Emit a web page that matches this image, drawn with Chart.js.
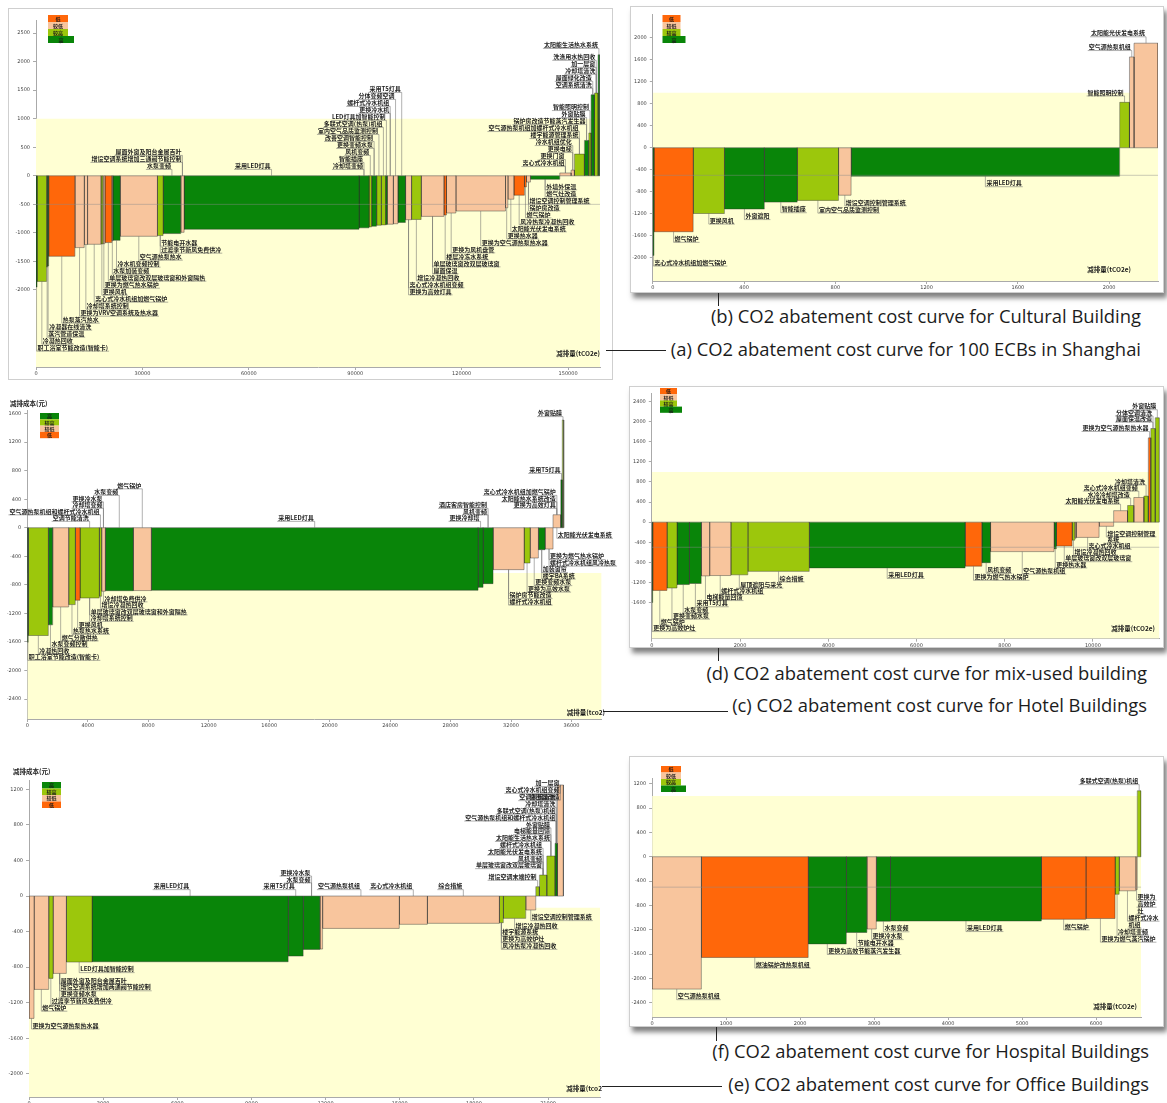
<!DOCTYPE html>
<html lang="zh">
<head>
<meta charset="utf-8">
<title>CO2 abatement cost curves</title>
<script src="https://cdn.jsdelivr.net/npm/chart.js@4.4.1/dist/chart.umd.min.js"></script>
<style>
  html, body { margin: 0; padding: 0; background: #fff; }
  body { position: relative; width: 1167px; height: 1103px; overflow: hidden; }
  .frame { position: absolute; background: #fff; border: 1px solid #cfcfcf; box-sizing: border-box; }
  .frame.shadow { box-shadow: 3px 5px 5px rgba(0,0,0,0.5); }
  canvas { position: absolute; }
  .cap { position: absolute; font-family: "Open Sans", sans-serif; font-size: 18.4px; line-height: 20px; color: #1c1c1c; white-space: nowrap; }
  .rule { position: absolute; background: #222; }
</style>
</head>
<body>
<div class="frame" style="left:8px;top:8px;width:605px;height:372px"></div>
<div class="frame shadow" style="left:630px;top:6px;width:534px;height:287px"></div>
<div class="frame shadow" style="left:629px;top:386px;width:535px;height:262px"></div>
<div class="frame shadow" style="left:629px;top:756px;width:535px;height:271px"></div>

<div class="rule" style="left:606px;top:350px;width:60px;height:1px"></div>
<div class="rule" style="left:718px;top:293px;width:1px;height:13px"></div>
<div class="rule" style="left:603px;top:711px;width:125px;height:1px"></div>
<div class="rule" style="left:718px;top:648px;width:1px;height:13px"></div>
<div class="rule" style="left:602px;top:1086px;width:120px;height:1px"></div>
<div class="rule" style="left:716px;top:1027px;width:1px;height:14px"></div>

<div class="cap" style="right:26px;top:306px">(b) CO2 abatement cost curve for Cultural Building</div>
<div class="cap" style="right:26px;top:339px">(a) CO2 abatement cost curve for 100 ECBs in Shanghai</div>
<div class="cap" style="right:20px;top:663px">(d) CO2 abatement cost curve for mix-used building</div>
<div class="cap" style="right:20px;top:695px">(c) CO2 abatement cost curve for Hotel Buildings</div>
<div class="cap" style="right:18px;top:1041px">(f) CO2 abatement cost curve for Hospital Buildings</div>
<div class="cap" style="right:18px;top:1074px">(e) CO2 abatement cost curve for Office Buildings</div>

<script>
// ---- data: (a) 100 ECBs in Shanghai ----
const aWidth = [300, 2700, 280, 280, 7400, 2630, 940, 3760, 560, 560, 1970, 280, 2070, 10500, 1600, 4980, 940, 49300, 2820, 750, 1400, 1310, 1220, 470, 1690, 1310, 2160, 1690, 2720, 6390, 750, 2630, 14000, 660, 1690, 3000, 560, 1130, 8260, 3190, 940, 2820, 1220, 660, 940, 1030, 470];
const aCost = [-1950, -1850, -1600, -1580, -1410, -1258, -1205, -1200, -1195, -1190, -1170, -1140, -1130, -1060, -1047, -1012, -990, -936, -912, -895, -883, -866, -860, -855, -848, -840, -816, -769, -765, -711, -687, -652, -617, -560, -410, -340, -195, -110, -60, 50, 100, 380, 620, 750, 1420, 1450, 2120];
const aLevel = ['高', '较高', '高', '高', '低', '较低', '较低', '较低', '较高', '较低', '低', '较低', '高', '较低', '较高', '高', '较低', '高', '高', '较高', '高', '较高', '较高', '高', '较低', '较低', '高', '较低', '较高', '较低', '低', '较低', '较低', '较低', '较低', '低', '低', '较低', '高', '较低', '较低', '较高', '高', '较高', '高', '较高', '高'];
const aLabel = [
  '职工浴室节能改造(智能卡)', '冷凝热回收', '蒸汽管道保温', '冷凝器在线清洗', '热泵蒸汽热水',
  '更换为VRV空调系统及热水器', '冷却塔系统控制', '离心式冷水机组加燃气锅炉', '更换风机', '更换为燃气热水锅炉',
  '单层玻璃窗改双层玻璃窗和外窗隔热', '水泵加装变频', '冷水机变频控制', '空气源热泵热水', '节能电开水器|过渡季节新风免费供冷',
  '^水泵变频', '^增设空调系统增加三通阀节能控制|^屋面外窗及阳台金属百叶', '^采用LED灯具', '^冷却塔变频|^智能插座', '^风机变频',
  '^更换变频水泵|^改善空调智能控制', '^室内空气品质监测控制', '^多联式空调(热泵)机组', '^LED灯具加智能控制', '^更换冷水机|^螺杆式冷水机组',
  '^分体变频空调', '^采用T5灯具', '离心式冷水机组变频|更换为高效灯具', '增设冷凝热回收', '单层玻璃窗改双层玻璃窗|屋面保温',
  '楼层冷冻水系统', '更换为风机盘管', '更换为空气源热泵热水器', '更换热水器', '太阳能光伏发电系统',
  '风冷热泵冷凝热回收', '燃气锅炉', '增设空调控制管理系统|锅炉房改造', '外墙外保温|燃气灶改造', '离心式冷水机组|更换门窗',
  '更换电梯|冷水机组优化', '楼宇能源管理系统|空气源热泵机组加螺杆式冷水机组', '锅炉房改造节能蒸汽发生器|外窗贴膜', '智能照明控制', '空调系统清洗|屋面绿化改造',
  '冷却塔清洗|加一层窗|洗涤用水热回收', '太阳能生活热水系统'
];
const aXTicks = [0, 30000, 60000, 90000, 120000, 150000];
const aYTicks = [-2000, -1500, -1000, -500, 0, 500, 1000, 1500, 2000, 2500];
const aXRange = [0, 159000];
const aYRange = [-3350, 2730];

// ---- data: (b) Cultural Building ----
const bWidth = [5, 172, 137, 175, 144, 181, 55, 1177, 43, 20, 105];
const bCost = [-1956, -1525, -1194, -1112, -987, -956, -862, -515, 825, 1650, 1900];
const bLevel = ['高', '低', '较高', '高', '高', '较高', '较低', '高', '较高', '较低', '较低'];
const bLabel = ['离心式冷水机组加燃气锅炉', '燃气锅炉', '更换风机', '外窗遮阳', '智能插座', '室内空气品质监测控制', '增设空调控制管理系统', '采用LED灯具', '智能照明控制', '空气源热泵机组', '太阳能光伏发电系统'];
const bXTicks = [0, 400, 800, 1200, 1600, 2000];
const bYTicks = [-2000, -1600, -1200, -800, -400, 0, 400, 800, 1200, 1600, 2000];
const bXRange = [0, 2214];
const bYRange = [-2420, 2430];

// ---- data: (c) Hotel Buildings ----
const cWidth = [69, 1322, 287, 1058, 440, 308, 1279, 155, 242, 1852, 1190, 21620, 330, 662, 2050, 397, 551, 440, 529, 507, 106, 92];
const cCost = [-1604, -1510, -1361, -1110, -1077, -1016, -984, -960, -890, -882, -880, -876, -835, -783, -587, -494, -424, -308, -298, 182, 671, 1510];
const cLevel = ['高', '较高', '高', '较低', '较高', '低', '较高', '较高', '较低', '高', '较低', '高', '高', '高', '较低', '较高', '较低', '高', '较低', '较低', '高', '较高'];
const cLabel = [
  '职工浴室节能改造(智能卡)', '冷凝热回收', '水泵变频控制', '燃气分散供热', '热泵热水系统', '更换风机',
  '单层玻璃窗改双层玻璃窗和外窗隔热|冷却塔系统控制|^空调节能清洗', '增设冷凝热回收|^空气源热泵机组和螺杆式冷水机组',
  '冷却塔免费供冷|^冷却塔变频|^更换冷水泵', '^水泵变频', '^燃气锅炉', '^采用LED灯具', '^更换冷却塔',
  '^风机变频|^酒店客房智能控制', '锅炉房节能改造|螺杆式冷水机组', '更换为高效水泵', '更换变频水泵', '加装窗帘|楼宇BA系统',
  '更换为燃气热水锅炉|螺杆式冷水机组风冷热泵', '_太阳能光伏发电系统|更换为高效灯具|太阳能热水系统改造|离心式冷水机组加燃气锅炉',
  '采用T5灯具', '外窗贴膜'
];
const cXTicks = [0, 4000, 8000, 12000, 16000, 20000, 24000, 28000, 32000, 36000];
const cYTicks = [-2400, -2000, -1600, -1200, -800, -400, 0, 400, 800, 1200, 1600];
const cXRange = [0, 38000];
const cYRange = [-2680, 1650];

// ---- data: (d) mix-used building ----
const dWidth = [20, 323, 228, 283, 268, 189, 480, 386, 1393, 3534, 378, 197, 1440, 55, 354, 63, 30, 519, 330, 315, 142, 228, 102, 55, 102, 94];
const dCost = [-1600, -1359, -1311, -1242, -1221, -1070, -1063, -1049, -980, -911, -876, -807, -587, -530, -476, -359, -320, -304, -83, 228, 331, 490, 518, 1677, 1863, 2077];
const dLevel = ['高', '低', '较高', '高', '高', '较低', '较低', '较高', '较高', '高', '低', '高', '较低', '高', '低', '较高', '较低', '较低', '较低', '较低', '较高', '较低', '较高', '低', '较高', '较高'];
const dLabel = [
  '更换为高效炉灶', '燃气锅炉', '更换变频水泵', '水泵变频', '采用T5灯具', '电梯能量回馈', '螺杆式冷水机组', '屋顶遮阳与采光',
  '综合措施', '采用LED灯具', '更换为燃气热水锅炉', '风机变频', '空气源热泵机组', '更换热水器', '单层玻璃窗改双层玻璃窗',
  '增设冷凝热回收', '', '离心式冷水机组', '增设空调控制管理系统', '太阳能光伏发电系统', '水冷冷却塔改造', '离心式冷水机组变频',
  '冷却塔清洗', '更换为空气源热泵热水器', '屋面保温改造|分体空调清洗', '外窗贴膜'
];
const dXTicks = [0, 2000, 4000, 6000, 8000, 10000];
const dYTicks = [-1600, -1200, -800, -400, 0, 400, 800, 1200, 1600, 2000, 2400];
const dXRange = [0, 11510];
const dYRange = [-2320, 2570];

// ---- data: (e) Office Buildings ----
const eWidth = [202, 594, 175, 540, 1039, 7937, 607, 675, 108, 3103, 1134, 2915, 162, 905, 405, 148, 297, 337, 94, 243];
const eCost = [-1376, -1050, -926, -870, -742, -739, -675, -600, -596, -364, -318, -307, -300, -251, -157, 105, 236, 450, 593, 1249];
const eLevel = ['较低', '较低', '较高', '较低', '较高', '高', '高', '高', '较低', '较低', '较低', '较低', '较高', '较高', '较低', '较高', '较高', '较高', '高', '较低'];
const eLabel = [
  '更换为空气源热泵热水器', '燃气锅炉', '过渡季节新风免费供冷',
  '屋面外窗及阳台金属百叶|增设空调系统增加两通阀节能控制|更换变频水泵', 'LED灯具加智能控制',
  '^采用LED灯具', '^采用T5灯具', '^水泵变频|^更换冷水泵', '', '^空气源热泵机组', '^离心式冷水机组', '^综合措施',
  '楼宇能源系统|更换为高效炉灶|风冷热泵冷凝热回收', '增设冷凝热回收', '增设空调控制管理系统', '增设空调末端控制',
  '单层玻璃窗改双层玻璃窗|风机变频|太阳能光伏发电系统|螺杆式冷水机组', '太阳能生活热水系统|电梯能量回馈|外窗贴膜',
  '空气源热泵机组和螺杆式冷水机组|多联式空调(热泵)机组|冷却塔清洗|空调系统清洗', '变压器改造|离心式冷水机组变频|加一层窗'
];
const eXTicks = [0, 3000, 6000, 9000, 12000, 15000, 18000, 21000];
const eYTicks = [-2000, -1600, -1200, -800, -400, 0, 400, 800, 1200];
const eXRange = [0, 23100];
const eYRange = [-2260, 1305];

// ---- data: (f) Hospital Buildings ----
const fWidth = [666, 1444, 516, 277, 127, 192, 2040, 600, 394, 56, 225, 20, 52];
const fCost = [-2176, -1656, -1433, -1245, -1188, -1060, -1056, -1028, -1016, -617, -560, -540, 1085];
const fLevel = ['较低', '低', '高', '高', '较低', '高', '高', '低', '低', '较高', '较低', '较低', '较高'];
const fLabel = ['空气源热泵机组', '燃油锅炉改热泵机组', '更换为高效节能蒸汽发生器', '节能电开水器', '更换冷水泵', '水泵变频', '采用LED灯具', '燃气锅炉', '更换为燃气蒸汽锅炉', '冷却塔变频', '螺杆式冷水机组', '更换为高效炉灶', '多联式空调(热泵)机组'];
const fXTicks = [0, 1000, 2000, 3000, 4000, 5000, 6000];
const fYTicks = [-2400, -2000, -1600, -1200, -800, -400, 0, 400, 800, 1200];
const fXRange = [0, 6610];
const fYRange = [-2635, 1295];

// ---- styling ----
const LEVEL_COLORS = { '高': '#098509', '较高': '#9cc70c', '较低': '#f8c59d', '低': '#ff670a' };
const BAND = '#ffffd3';
const LABEL_FONT = 'bold 6px "Noto Sans CJK SC", sans-serif';
const TITLE_FONT = 'bold 6.5px "Noto Sans CJK SC", sans-serif';
const GAP_DOWN = 7, GAP_UP = 10;
const LOW_FIRST = ['低', '较低', '较高', '高'];
const HIGH_FIRST = ['高', '较高', '较低', '低'];

const panels = [
  { key: 'a', widths: aWidth, costs: aCost, levels: aLevel, labels: aLabel, xTicks: aXTicks, yTicks: aYTicks,
    xRange: aXRange, yRange: aYRange, band: 1000, ref: -500, row: 7,
    canvas: [9, 9, 602, 369], area: [36, 20, 600, 367],
    legend: { x: 48, y: 15, row: 7, widths: [20, 20, 20, 26], order: LOW_FIRST },
    xTitle: { text: '减排量(tCO2e)', right: 600, y: 354 } },
  { key: 'b', widths: bWidth, costs: bCost, levels: bLevel, labels: bLabel, xTicks: bXTicks, yTicks: bYTicks,
    xRange: bXRange, yRange: bYRange, band: 1000, ref: -500, row: 7.3,
    canvas: [631, 8, 532, 283], area: [652.8, 12, 1158, 281],
    legend: { x: 662.5, y: 15, row: 7, widths: [18, 18, 18, 23], order: LOW_FIRST },
    xTitle: { text: '减排量(tCO2e)', right: 1131, y: 270 } },
  { key: 'c', widths: cWidth, costs: cCost, levels: cLevel, labels: cLabel, xTicks: cXTicks, yTicks: cYTicks,
    xRange: cXRange, yRange: cYRange, band: -634, ref: null, row: 6.5,
    canvas: [0, 396, 625, 336], area: [27.3, 410, 601.7, 719],
    legend: { x: 40, y: 413, row: 6.3, widths: [19, 19, 19, 19], order: HIGH_FIRST },
    xTitle: { text: '减排量(tco2)', right: 605, y: 713 },
    yTitle: { text: '减排成本(元)', left: 10, y: 404 } },
  { key: 'd', widths: dWidth, costs: dCost, levels: dLevel, labels: dLabel, xTicks: dXTicks, yTicks: dYTicks,
    xRange: dXRange, yRange: dYRange, band: 1000, ref: -500, row: 6.2,
    canvas: [630, 387, 533, 260], area: [651.8, 392, 1159.5, 638.7],
    legend: { x: 660, y: 388, row: 6.2, widths: [17, 17, 17, 22], order: LOW_FIRST },
    xTitle: { text: '减排量(tCO2e)', right: 1155, y: 629 } },
  { key: 'e', widths: eWidth, costs: eCost, levels: eLevel, labels: eLabel, xTicks: eXTicks, yTicks: eYTicks,
    xRange: eXRange, yRange: eYRange, band: -132, ref: null, row: 6.8,
    canvas: [0, 752, 625, 351], area: [29, 780, 600, 1097],
    legend: { x: 42, y: 782, row: 6.5, widths: [19, 19, 19, 19], order: HIGH_FIRST },
    xTitle: { text: '减排量(tco2', right: 602, y: 1089 },
    yTitle: { text: '减排成本(元)', left: 13, y: 772 } },
  { key: 'f', widths: fWidth, costs: fCost, levels: fLevel, labels: fLabel, xTicks: fXTicks, yTicks: fYTicks,
    xRange: fXRange, yRange: fYRange, band: 1000, ref: -500, row: 7,
    canvas: [630, 758, 533, 270], area: [652.1, 778, 1141.2, 1017],
    legend: { x: 661, y: 766, row: 6.5, widths: [20, 20, 20, 25], order: LOW_FIRST },
    xTitle: { text: '减排量(tCO2e)', right: 1137, y: 1007 } }
];

function buildDatasets(p) {
  const sets = [];
  let acc = 0;
  p.widths.forEach((w, i) => {
    const v = p.costs[i];
    sets.push({
      data: [{ x: acc, y: 0 }, { x: acc, y: v }, { x: acc + w, y: v }, { x: acc + w, y: 0 }],
      backgroundColor: LEVEL_COLORS[p.levels[i]],
      borderColor: 'rgba(45,45,45,0.7)', borderWidth: 0.6,
      fill: 'origin', pointRadius: 0, order: 1
    });
    acc += w;
  });
  sets.push({ data: [{ x: 0, y: 0 }, { x: acc, y: 0 }], borderColor: 'rgba(90,90,90,0.8)', borderWidth: 0.7,
    fill: false, pointRadius: 0, order: 0 });
  if (p.ref !== null) {
    sets.push({ data: [{ x: p.xRange[0], y: p.ref }, { x: p.xRange[1], y: p.ref }], borderColor: 'rgba(140,140,140,0.45)',
      borderWidth: 1, fill: false, pointRadius: 0, order: 0 });
  }
  sets.push({ data: [{ x: p.xRange[0], y: p.band }, { x: p.xRange[1], y: p.band }], backgroundColor: BAND,
    borderColor: 'rgba(0,0,0,0)', borderWidth: 1, fill: 'start', pointRadius: 0, order: 9 });
  return sets;
}

// legend, axis titles and the leader-line labels
function overlay(p) {
  const ROW = p.row;
  return {
    id: 'macc_' + p.key,
    afterDatasetsDraw(chart) {
      const ctx = chart.ctx, xs = chart.scales.x, ys = chart.scales.y, area = chart.chartArea;
      const ox = p.canvas[0], oy = p.canvas[1];
      let acc = 0;
      const bars = p.widths.map((w, i) => {
        const v = p.costs[i];
        const r = { x0: xs.getPixelForValue(acc), x1: xs.getPixelForValue(acc + w), v: v,
          top: ys.getPixelForValue(Math.max(v, 0)), bot: ys.getPixelForValue(Math.min(v, 0)) };
        acc += w;
        return r;
      });
      ctx.save();

      const lg = p.legend;
      ctx.textAlign = 'center';
      ctx.textBaseline = 'middle';
      ctx.font = 'bold 5px "Noto Sans CJK SC", sans-serif';
      lg.order.forEach((lev, i) => {
        const bx = lg.x - ox, by = lg.y - oy + i * lg.row;
        ctx.fillStyle = LEVEL_COLORS[lev];
        ctx.fillRect(bx, by, lg.widths[i], lg.row);
        ctx.fillStyle = '#1a1a1a';
        ctx.fillText(lev, bx + lg.widths[i] / 2, by + lg.row / 2 + 0.3);
      });

      ctx.font = TITLE_FONT;
      ctx.fillStyle = '#1a1a1a';
      ctx.textAlign = 'right';
      ctx.fillText(p.xTitle.text, p.xTitle.right - ox, p.xTitle.y - oy);
      if (p.yTitle) {
        ctx.textAlign = 'left';
        ctx.fillText(p.yTitle.text, p.yTitle.left - ox, p.yTitle.y - oy);
      }

      ctx.font = LABEL_FONT;
      const items = [];
      p.labels.forEach((lab, i) => {
        if (!lab) return;
        const b = bars[i];
        lab.split('|').forEach(raw => {
          let up = b.v > 0, text = raw;
          if (raw[0] === '^') { up = true; text = raw.slice(1); }
          else if (raw[0] === '_') { up = false; text = raw.slice(1); }
          items.push({ text: text, up: up, ax: (b.x0 + b.x1) / 2, ay: up ? b.top : b.bot });
        });
      });

      const placed = [], chains = [];
      const limitR = chart.width - 2;
      // a label may not overlap another label nor cross another label's leader line
      const collide = (y, x0, x1, up) => {
        for (const L of placed) {
          if (L.up !== up) continue;
          const boxHit = L.x1 + 2 > x0 && L.x0 - 2 < x1 && Math.abs(L.y - y) < ROW - 0.01;
          const lx = up ? L.x1 + 1 : L.x0 - 1;
          let leadHit = false;
          if (L.lead && lx > x0 && lx < x1) {
            leadHit = up ? (y > L.y - ROW + 0.01 && y - 3.5 < L.ay) : (y < L.y + ROW - 0.01 && y + 3.6 > L.ay);
          }
          if (boxHit || leadHit) return L;
        }
        return null;
      };
      const placeAll = (list, up) => {
        let chain = null;
        list.forEach(it => {
          let lines = [it.text];
          if (!up) {
            const avail = limitR - it.ax - 1;
            if (ctx.measureText(it.text).width > avail) {
              lines = [];
              let cur = '';
              for (const ch of it.text) {
                if (cur && ctx.measureText(cur + ch).width > avail) { lines.push(cur); cur = ch; }
                else cur += ch;
              }
              lines.push(cur);
            }
          }
          let prev = null;
          lines.forEach((t, li) => {
            const w = ctx.measureText(t).width;
            const x0 = up ? it.ax - 1 - w : it.ax + 1;
            const x1 = x0 + w;
            let cand = up ? it.ay - GAP_UP : it.ay + GAP_DOWN;
            bars.forEach(b => {
              if (b.x1 > x0 && b.x0 < x1) {
                cand = up ? Math.min(cand, b.top - GAP_UP) : Math.max(cand, b.bot + GAP_DOWN);
              }
            });
            if (prev !== null) cand = up ? Math.min(cand, prev - ROW) : Math.max(cand, prev + ROW);
            let y = cand, L;
            while ((L = collide(y, x0, x1, up))) y = up ? L.y - ROW : L.y + ROW;
            const rec = { t: t, x0: x0, x1: x1, y: y, up: up, ax: it.ax, ay: it.ay, lead: li === 0 };
            if (!chain || (li === 0 && Math.abs(y - cand) < 0.01)) { chain = []; chains.push({ up: up, list: chain }); }
            chain.push(rec);
            placed.push(rec);
            prev = y;
          });
        });
      };
      placeAll(items.filter(it => it.up).sort((a, b) => a.ax - b.ax), true);
      placeAll(items.filter(it => !it.up).sort((a, b) => b.ax - a.ax), false);

      chains.forEach(c => {
        if (c.up) {
          const m = Math.min(...c.list.map(r => r.y)), lim = area.top + 3;
          if (m < lim) c.list.forEach(r => { r.y += lim - m; });
        } else {
          const m = Math.max(...c.list.map(r => r.y)), lim = area.bottom - 4;
          if (m > lim) c.list.forEach(r => { r.y -= m - lim; });
        }
      });

      ctx.textAlign = 'left';
      ctx.textBaseline = 'middle';
      ctx.lineWidth = 0.6;
      placed.forEach(r => {
        ctx.fillStyle = '#1e1e1e';
        ctx.fillText(r.t, r.x0, r.y);
        const uy = r.y + 3.6;
        ctx.strokeStyle = 'rgba(100,100,100,0.85)';
        ctx.beginPath();
        ctx.moveTo(r.x0 - 1, uy);
        ctx.lineTo(r.x1 + 1, uy);
        if (r.lead) {
          const lx = r.up ? r.x1 + 1 : r.x0 - 1;
          ctx.moveTo(lx, uy);
          ctx.lineTo(lx, r.ay);
        }
        ctx.stroke();
      });
      ctx.restore();
    }
  };
}

function makeChart(p) {
  const [cx, cy, cw, ch] = p.canvas;
  const [l, t, r, b] = p.area;
  const cv = document.createElement('canvas');
  cv.width = cw; cv.height = ch;
  cv.style.left = cx + 'px'; cv.style.top = cy + 'px';
  cv.style.width = cw + 'px'; cv.style.height = ch + 'px';
  document.body.appendChild(cv);
  const tickFont = { family: 'DejaVu Sans', size: 5 };
  new Chart(cv, {
    type: 'line',
    data: { datasets: buildDatasets(p) },
    options: {
      responsive: false, animation: false, devicePixelRatio: 1, events: [],
      layout: { padding: { left: 0, top: t - cy, right: cx + cw - r, bottom: 0 } },
      plugins: { legend: { display: false }, tooltip: { enabled: false } },
      scales: {
        x: {
          type: 'linear', min: p.xRange[0], max: p.xRange[1],
          afterFit: s => { s.height = cy + ch - b; },
          afterBuildTicks: s => { s.ticks = p.xTicks.map(v => ({ value: v })); },
          ticks: { font: tickFont, color: '#444', padding: 1, maxRotation: 0, autoSkip: false, callback: v => String(v) },
          grid: { drawOnChartArea: false, drawTicks: true, tickLength: 3, color: '#aaa' },
          border: { display: true, color: '#aaa', width: 1 }
        },
        y: {
          type: 'linear', min: p.yRange[0], max: p.yRange[1],
          afterFit: s => { s.width = l - cx; },
          afterBuildTicks: s => { s.ticks = p.yTicks.map(v => ({ value: v })); },
          ticks: { font: tickFont, color: '#444', padding: 3, autoSkip: false, callback: v => String(v) },
          grid: { drawOnChartArea: false, drawTicks: true, tickLength: 3, color: '#aaa' },
          border: { display: true, color: '#aaa', width: 1 }
        }
      }
    },
    plugins: [overlay(p)]
  });
}

panels.forEach(makeChart);
</script>
</body>
</html>
